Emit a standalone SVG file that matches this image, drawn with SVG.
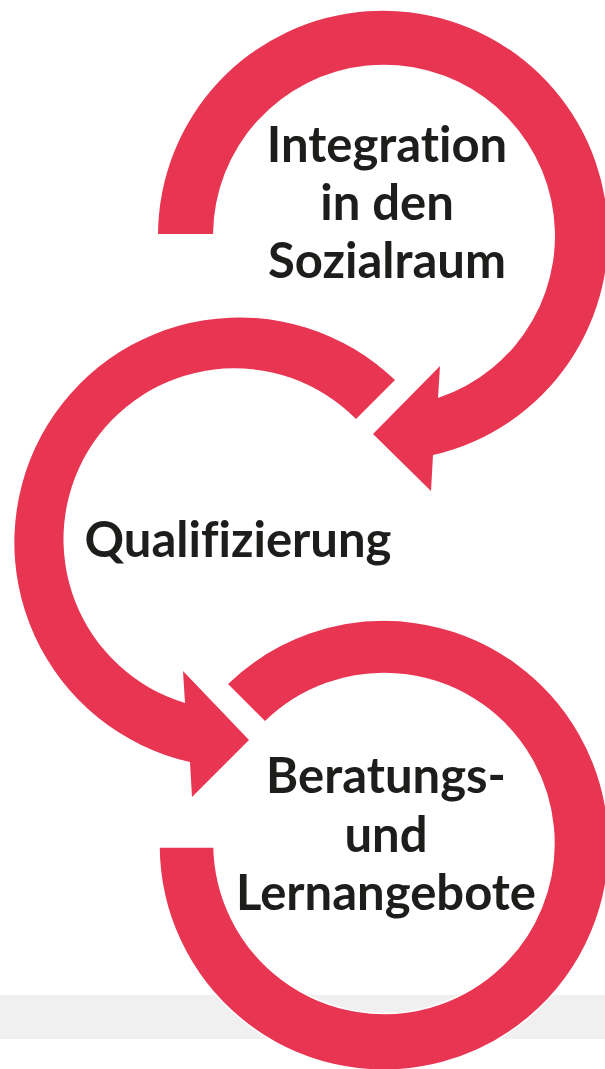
<svg xmlns="http://www.w3.org/2000/svg" width="605" height="1069" viewBox="0 0 605 1069">
<style>
.ring{fill:#E83552;}
.lbl{font-family:Lato,"Open Sans","Liberation Sans",sans-serif;font-weight:700;font-size:49px;fill:#1d1d1b;text-anchor:middle;font-variant-ligatures:none;font-feature-settings:"liga" 0;}
</style>
<rect x="0" y="0" width="605" height="1069" fill="#ffffff"/>
<rect id="band" x="0" y="995" width="605" height="44" fill="#f0f0f0"/>
<g id="connectors">
<path id="arrow-integration" class="ring" d="M 158 234 A 225 225 0 1 1 433 455 L 431 491 L 373 434 L 440 366 L 438 398 A 171 171 0 1 0 213 234 Z"/>
<path id="arrow-qualifizierung" class="ring" d="M 395 380 A 225 225 0 1 0 190 762 L 192 797 L 249 740 L 183 671 L 185 703 A 171 171 0 1 1 356 419 Z"/>
<path id="ring-beratung" class="ring" stroke="#ffffff" stroke-width="1.5" d="M 227 684 A 225 225 0 1 1 159 847 L 214 847 A 170 170 0 1 0 265 722 Z"/>
</g>
<g id="node-integration">
<text class="lbl" x="387" y="162">Integration</text>
<text class="lbl" x="387" y="220">in den</text>
<text class="lbl" x="387" y="278">Sozialraum</text>
</g>
<g id="node-qualifizierung">
<text class="lbl" x="238" y="557">Qualifizierung</text>
</g>
<g id="node-beratung">
<text class="lbl" x="386" y="793">Beratungs-</text>
<text class="lbl" x="386" y="852">und</text>
<text class="lbl" x="386" y="910">Lernangebote</text>
</g>
</svg>
